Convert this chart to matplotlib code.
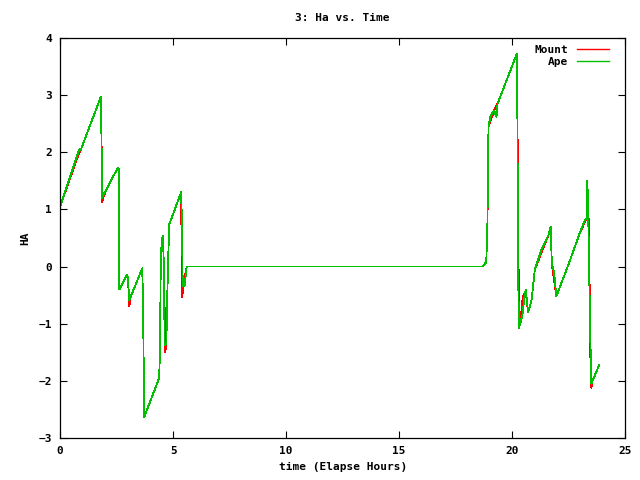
import matplotlib
matplotlib.use("Agg")
import matplotlib.pyplot as plt

# Ape track (elapsed hours, HA)
ape_t = [0.0, 0.8, 0.85, 0.9, 1.8, 1.83, 1.85, 1.9, 2.05, 2.55, 2.6, 2.62,
         2.95, 3.0, 3.05, 3.1, 3.63, 3.67, 3.7, 3.72, 4.38, 4.42, 4.45, 4.5,
         4.55, 4.6, 4.62, 4.7, 4.72, 4.82, 5.35, 5.4, 5.42, 5.5, 5.6, 18.7,
         18.85, 18.9, 18.93, 18.95, 19.05, 19.2, 19.3, 19.35, 20.2, 20.23,
         20.25, 20.3, 20.45, 20.55, 20.6, 20.7, 20.85, 21.0, 21.3, 21.6, 21.7,
         21.75, 21.85, 21.95, 22.5, 23.0, 23.2, 23.3, 23.32, 23.35, 23.4,
         23.45, 23.5, 23.55, 23.85]
ape_ha = [1.05, 2.0, 2.05, 2.03, 2.97, 2.2, 1.2, 1.25, 1.35, 1.73, 1.7, -0.4,
          -0.15, -0.2, -0.58, -0.55, -0.03, -0.68, -2.0, -2.63, -1.95, -1.4,
          0.14, 0.47, 0.53, -0.2, -1.38, -1.35, -0.8, 0.73, 1.3, 0.6, -0.35,
          -0.35, 0.0, 0.0, 0.08, 0.7, 1.84, 2.45, 2.65, 2.73, 2.62, 2.85,
          3.72, 2.52, 0.1, -1.07, -0.85, -0.5, -0.4, -0.8, -0.6, -0.05, 0.3,
          0.55, 0.7, 0.05, -0.1, -0.52, 0.05, 0.6, 0.8, 0.85, 1.5, 1.15, 0.0,
          -1.2, -2.05, -2.0, -1.72]

# Mount track (mostly under Ape, deviates at the jumps)
mount_t = [0.0, 0.8, 0.85, 0.9, 1.8, 1.83, 1.86, 1.9, 2.05, 2.55, 2.6, 2.62,
           2.95, 3.0, 3.06, 3.1, 3.63, 3.67, 3.7, 3.72, 4.38, 4.42, 4.45,
           4.55, 4.6, 4.65, 4.7, 4.72, 4.82, 5.35, 5.38, 5.4, 5.45, 5.6, 18.7,
           18.85, 18.9, 18.95, 19.2, 19.35, 20.2, 20.23, 20.3, 20.35, 20.45,
           20.5, 20.6, 20.7, 20.85, 21.0, 21.6, 21.7, 21.75, 21.95, 22.5, 23.0,
           23.3, 23.35, 23.4, 23.45, 23.5, 23.55, 23.85]
mount_ha = [1.05, 1.95, 2.0, 2.03, 2.97, 2.2, 1.13, 1.2, 1.35, 1.73, 1.7, -0.4,
            -0.15, -0.2, -0.7, -0.55, -0.03, -0.68, -2.0, -2.63, -1.95, -1.4,
            0.14, 0.53, -0.2, -1.5, -1.35, -0.8, 0.73, 1.3, 0.1, -0.54, -0.3,
            0.0, 0.0, 0.08, 0.7, 2.45, 2.73, 2.85, 3.72, 2.52, -1.07, -1.0,
            -0.6, -0.5, -0.45, -0.8, -0.6, -0.05, 0.55, 0.7, 0.05, -0.52, 0.05,
            0.6, 0.85, 1.15, 0.56, -1.5, -2.12, -2.0, -1.72]

plt.rcParams["font.family"] = "DejaVu Sans Mono"
plt.rcParams["font.weight"] = "bold"
plt.rcParams["font.size"] = 8

fig = plt.figure(figsize=(6.4, 4.8), dpi=100)
ax = fig.add_axes([0.094, 0.0875, 0.883, 0.8335])

ax.plot(mount_t, mount_ha, color="#ff0000", linewidth=0.6, antialiased=False,
        label="Mount")
ax.plot(ape_t, ape_ha, color="#00c000", linewidth=0.6, antialiased=False,
        label="Ape")

ax.set_xlim(0, 25)
ax.set_ylim(-3, 4)
ax.set_xticks(range(0, 26, 5))
ax.set_yticks(range(-3, 5))
ax.tick_params(direction="in", top=True, right=True, length=5, width=0.8,
               labelsize=8, pad=6)
for s in ax.spines.values():
    s.set_linewidth(0.9)

ax.set_title("3: Ha vs. Time", fontsize=8, fontweight="bold", pad=12)
ax.set_xlabel("time (Elapse Hours)", fontweight="bold", labelpad=4)
ax.set_ylabel("HA", fontweight="bold", labelpad=6)

leg = ax.legend(loc="upper right", bbox_to_anchor=(0.983, 1.0), frameon=False,
                markerfirst=False, handlelength=2.9, handletextpad=0.8,
                labelspacing=0.25, borderaxespad=0.2, fontsize=8)
for h in leg.get_lines():
    h.set_linewidth(1.0)
    h.set_antialiased(True)

fig.savefig("out.png", dpi=100)
